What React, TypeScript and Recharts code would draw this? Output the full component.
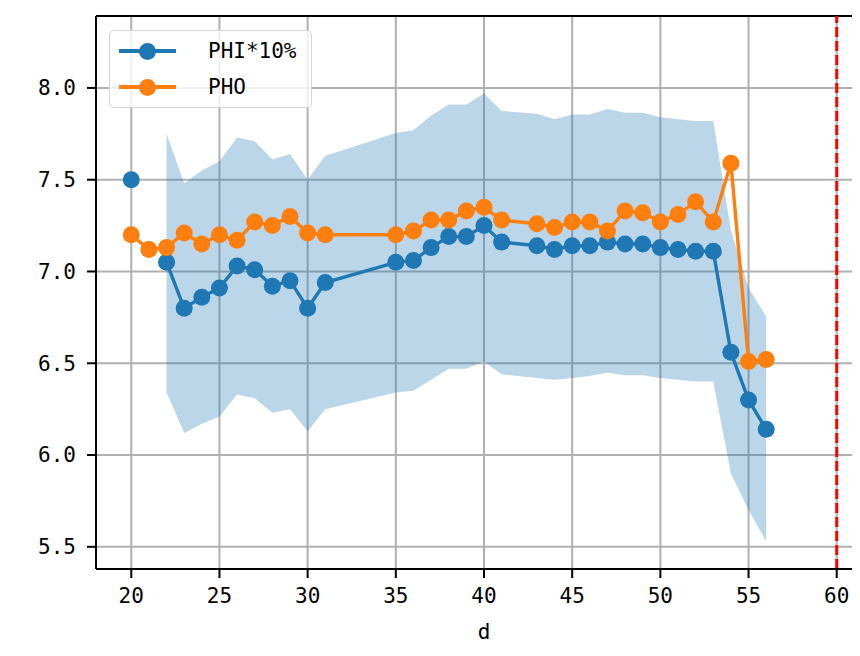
import React from 'react';
import { ComposedChart, Line, Area, XAxis, YAxis, CartesianGrid, ReferenceLine } from 'recharts';

// d values that have data (32-34 and 42 are missing)
const dValues = [20, 21, 22, 23, 24, 25, 26, 27, 28, 29, 30, 31, 35, 36, 37, 38, 39, 40, 41, 43, 44, 45, 46, 47, 48, 49, 50, 51, 52, 53, 54, 55, 56];

const phiValues = [7.5, null, 7.05, 6.8, 6.86, 6.91, 7.03, 7.01, 6.92, 6.95, 6.8, 6.94, 7.05, 7.06, 7.13, 7.19, 7.19, 7.25, 7.16, 7.14, 7.12, 7.14, 7.14, 7.16, 7.15, 7.15, 7.13, 7.12, 7.11, 7.11, 6.56, 6.3, 6.14];

const phoValues = [7.2, 7.12, 7.13, 7.21, 7.15, 7.2, 7.17, 7.27, 7.25, 7.3, 7.21, 7.2, 7.2, 7.22, 7.28, 7.28, 7.33, 7.35, 7.28, 7.26, 7.24, 7.27, 7.27, 7.22, 7.33, 7.32, 7.27, 7.31, 7.38, 7.27, 7.59, 6.51, 6.52];

const bandUpper = [null, null, 7.75, 7.48, 7.55, 7.6, 7.73, 7.71, 7.61, 7.64, 7.5, 7.63, 7.755, 7.77, 7.85, 7.91, 7.91, 7.97, 7.875, 7.86, 7.83, 7.855, 7.855, 7.885, 7.865, 7.865, 7.84, 7.83, 7.82, 7.82, 7.225, 6.91, 6.755];

const bandLower = [null, null, 6.34, 6.12, 6.17, 6.21, 6.33, 6.31, 6.23, 6.25, 6.13, 6.25, 6.34, 6.35, 6.41, 6.47, 6.47, 6.51, 6.44, 6.42, 6.41, 6.42, 6.43, 6.45, 6.435, 6.435, 6.42, 6.41, 6.4, 6.4, 5.9, 5.7, 5.53];

const xTicks = [20, 25, 30, 35, 40, 45, 50, 55, 60];
const yTicks = [5.5, 6.0, 6.5, 7.0, 7.5, 8.0];
const limitD = 60;

const BLUE = '#1f77b4';
const ORANGE = '#ff7f0e';
const FONT = '"DejaVu Sans Mono", "Liberation Mono", monospace';
const Y_MAX = 8.392;

const data = dValues.map((d, i) => ({
  d,
  phi: phiValues[i],
  pho: phoValues[i],
  band: bandUpper[i] == null || bandLower[i] == null ? null : [bandLower[i], bandUpper[i]],
}));

const LegendRow = ({ color, label, top }: { color: string; label: string; top: number }) => (
  <div style={{ position: 'absolute', left: 0, top, width: '100%', height: 0 }}>
    <div style={{ position: 'absolute', left: 9, top: -1.7, width: 57, height: 3.4, background: color }} />
    <div style={{ position: 'absolute', left: 29, top: -8.5, width: 17, height: 17, borderRadius: '50%', background: color }} />
    <div style={{ position: 'absolute', left: 98, top: -14, fontSize: 21, lineHeight: '28px', color: '#000', whiteSpace: 'nowrap' }}>{label}</div>
  </div>
);

export default function App() {
  return (
    <div style={{ position: 'relative', width: 852, height: 648, overflow: 'hidden', fontFamily: FONT }}>
      <ComposedChart width={880} height={648} data={data} margin={{ top: 8, right: 16, left: 0, bottom: 27 }}>
        <Area
          type="linear"
          dataKey="band"
          stroke="none"
          fill={BLUE}
          fillOpacity={0.3}
          isAnimationActive={false}
          dot={false}
          activeDot={false}
        />
        <CartesianGrid stroke="#b0b0b0" strokeWidth={2} strokeDasharray="" />
        <XAxis
          type="number"
          dataKey="d"
          domain={[18, 62]}
          ticks={xTicks}
          allowDataOverflow
          height={60}
          tickSize={9}
          tickMargin={10}
          stroke="#000"
          strokeWidth={2}
          tick={{ fill: '#000', fontSize: 21, fontFamily: FONT }}
          label={{ value: 'd', position: 'insideBottom', offset: -10, fill: '#000', fontSize: 21, fontFamily: FONT }}
        />
        <YAxis
          type="number"
          domain={[5.379, Y_MAX]}
          ticks={yTicks}
          allowDataOverflow
          width={88}
          tickSize={9}
          tickMargin={11}
          stroke="#000"
          strokeWidth={2}
          tickFormatter={(v: number) => v.toFixed(1)}
          tick={{ fill: '#000', fontSize: 21, fontFamily: FONT }}
        />
        <ReferenceLine y={Y_MAX} stroke="#000" strokeWidth={2} />
        <ReferenceLine x={limitD} stroke="#ff0000" strokeWidth={3} strokeDasharray="10 4" />
        <Line
          type="linear"
          dataKey="phi"
          stroke={BLUE}
          strokeWidth={3.4}
          dot={{ r: 8.5, fill: BLUE, stroke: BLUE, strokeWidth: 0 }}
          activeDot={false}
          isAnimationActive={false}
        />
        <Line
          type="linear"
          dataKey="pho"
          stroke={ORANGE}
          strokeWidth={3.4}
          dot={{ r: 8.5, fill: ORANGE, stroke: ORANGE, strokeWidth: 0 }}
          activeDot={false}
          isAnimationActive={false}
        />
      </ComposedChart>
      <div
        style={{
          position: 'absolute',
          left: 101,
          top: 22,
          width: 203,
          height: 78,
          boxSizing: 'border-box',
          background: 'rgba(255,255,255,0.8)',
          border: '1.5px solid #d5d5d5',
          borderRadius: 5,
        }}
      >
        <LegendRow color={BLUE} label="PHI*10%" top={20} />
        <LegendRow color={ORANGE} label="PHO" top={56} />
      </div>
    </div>
  );
}
